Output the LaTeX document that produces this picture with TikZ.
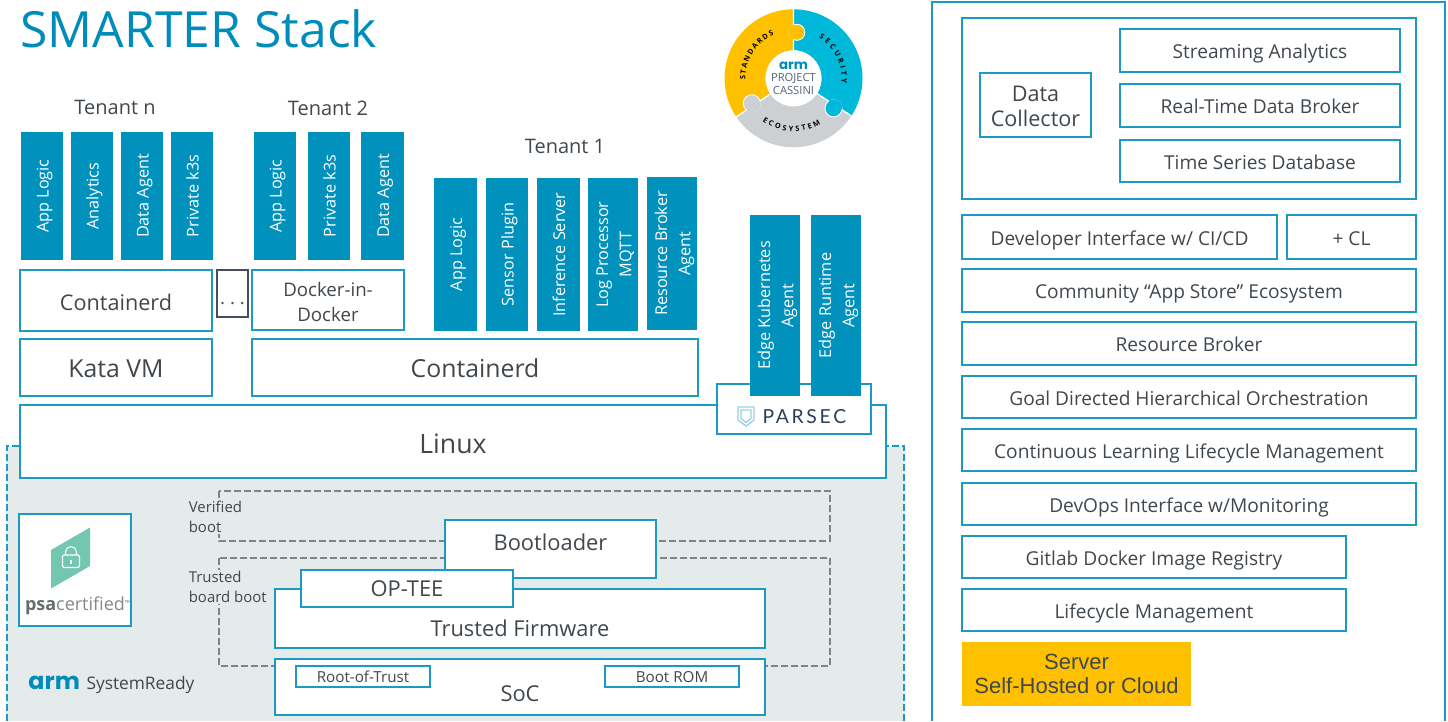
\documentclass[tikz,border=0pt]{standalone}
\usepackage{fontspec}
\usetikzlibrary{decorations.text}
\setmainfont{Open Sans}
\newfontfamily\armfont{Poppins}
\newfontfamily\parsecfont[LetterSpace=14]{Lato}
\newfontfamily\serverfont{Liberation Sans}
\newcommand{\fsize}[2]{\fontsize{#1pt}{#2pt}\selectfont}
\newcommand{\lowtext}[2][-1.5pt]{\raisebox{#1}[\height][\depth]{\begin{tabular}{@{}c@{}}#2\end{tabular}}}
\definecolor{edgeblue}{RGB}{27,155,196}
\definecolor{barblue}{RGB}{0,145,189}
\definecolor{titleblue}{RGB}{0,140,186}
\definecolor{inktext}{RGB}{64,72,78}
\definecolor{sysgrey}{RGB}{229,234,234}
\definecolor{dashgrey}{RGB}{128,132,134}
\definecolor{dotsink}{RGB}{70,80,92}
\definecolor{goldfill}{RGB}{255,192,0}
\definecolor{cyanfill}{RGB}{0,184,217}
\definecolor{ringgrey}{RGB}{205,208,210}
\definecolor{psateal}{RGB}{115,198,175}
\definecolor{navyink}{RGB}{44,62,90}
\tikzset{every picture/.style={line width=0.75pt}}
\tikzset{
  sz/.style 2 args={minimum width=#1*0.75pt,minimum height=#2*0.75pt},
  wbox/.style={draw=edgeblue,fill=white,line width=1.2pt,anchor=north west,inner sep=0pt,outer sep=0pt,align=center,text=inktext},
  bar/.style={fill=barblue,text=white,rotate=90,inner sep=0pt,font=\fsize{12.2}{17.5}},
  caption/.style={text=inktext,inner sep=0pt,align=center},
  bootframe/.style={draw=dashgrey,dash pattern={on 5pt off 2.5pt},line width=0.9pt},
  bootlabel/.style={fill=sysgrey,text=inktext,inner sep=1pt,align=left,anchor=north west,font=\fsize{11.2}{15}},
  ft/.style={font=\fsize{14.35}{17},text height=14.6pt,text depth=2.5pt},
  fm/.style={font=\fsize{16.2}{18.5}},
  fb/.style={font=\fsize{16.4}{20}},
  fl/.style={font=\fsize{18.6}{22},text height=15.5pt}
}
\begin{document}
\begin{tikzpicture}[x=0.75pt,y=0.75pt,yscale=-1,xscale=1]
\useasboundingbox (0,0) rectangle (1448,721);

% System ready area
\fill [sysgrey] (7,446) rectangle (904,721);
\draw [edgeblue,dash pattern={on 5pt off 2.5pt},line width=1pt] (7,721) -- (7,446) -- (904,446) -- (904,721);

% Title
\node [anchor=base west,inner sep=0pt,text=titleblue,font=\fsize{37.4}{42}] (title) at (20,47) {SMARTER Stack};

% Tenant labels
\node [caption,font=\fsize{15}{18}] (tenantn) at (115,107) {Tenant n};
\node [caption,font=\fsize{15}{18}] (tenant2) at (328,108) {Tenant 2};
\node [caption,font=\fsize{15}{18}] (tenant1) at (565,146) {Tenant 1};

% Tenant n
\node [bar,sz={128}{42}] (logicn) at (42,196) {\lowtext{App Logic}};
\node [bar,sz={128}{42}] (analyticsn) at (92,196) {\lowtext{Analytics}};
\node [bar,sz={128}{42}] (agentn) at (142,196) {\lowtext{Data Agent}};
\node [bar,sz={128}{42}] (k3sn) at (192,196) {\lowtext{Private k3s}};
\node [wbox,sz={192}{61},fm,text height=14.5pt] (containerdn) at (20,270) {Containerd};
\node [wbox,sz={192}{57},fl] (kata) at (20,339) {Kata VM};
\node [draw=dotsink,fill=white,line width=1.2pt,anchor=north west,outer sep=0pt,sz={31}{47},inner sep=0pt,text=dotsink,font=\fsize{14}{16},text height=15.8pt,text depth=0pt] (dots) at (217,270) {.\hspace{3.7pt}.\hspace{3.7pt}.};

% Tenant 2
\node [bar,sz={128}{42}] (logic2) at (275,196) {\lowtext{App Logic}};
\node [bar,sz={128}{42}] (k3s2) at (329,196) {\lowtext{Private k3s}};
\node [bar,sz={128}{43}] (agent2) at (382.5,196) {\lowtext{Data Agent}};
\node [wbox,sz={152}{60},font=\fsize{14}{18.5}] (dind) at (252,270) {\lowtext[-3pt]{Docker-in-\\Docker}};

% Tenant 1
\node [bar,sz={153}{43}] (logic1) at (455.5,254.5) {\lowtext{App Logic}};
\node [bar,sz={153}{42}] (sensor) at (507,254.5) {\lowtext{Sensor Plugin}};
\node [bar,sz={153}{43}] (inference) at (558.5,254.5) {\lowtext{Inference Server}};
\node [bar,sz={153}{50}] (logproc) at (613,254.5) {\lowtext{Log Processor\\MQTT}};
\node [bar,sz={153}{50}] (broker1) at (672,253.5) {\lowtext{Resource Broker\\Agent}};
\node [wbox,sz={446}{57},fl] (containerd1) at (252,339) {Containerd};

% Linux and Parsec
\node [wbox,sz={866}{73},font=\fsize{20}{24},text height=18.2pt] (linux) at (20,405) {Linux};
\node [wbox,sz={154}{50}] (parsecbox) at (717,384) {};
\node [anchor=west,inner sep=0pt,text=navyink,font=\parsecfont\fsize{14.5}{16}] (parsec) at (762,416.5) {PARSEC};
\draw [edgeblue!45,line width=1pt] (738,407) -- (754,407) -- (754,420) -- (746,426) -- (738,420) -- cycle;
\draw [edgeblue!45,line width=1pt] (741,410) -- (751,410) -- (751,418.5) -- (746,422.5) -- (741,418.5) -- cycle;
\node [bar,sz={181}{50}] (k8sagent) at (775,305.5) {\lowtext{Edge Kubernetes\\Agent}};
\node [bar,sz={181}{50}] (runtimeagent) at (836,305.5) {\lowtext{Edge Runtime\\Agent}};

% Boot chain
\draw [bootframe] (219,491) rectangle (830,541);
\draw [bootframe] (219,558) rectangle (830,666);
\node [bootlabel] (verified) at (187,499) {Verified\\boot};
\node [bootlabel] (trustedboot) at (187,569) {Trusted\\board boot};
\node [wbox,sz={211}{58}] (bootloader) at (445,520) {};
\node [caption,fb] (bootloadertxt) at (550.5,542) {Bootloader};
\node [wbox,sz={490}{59}] (firmware) at (275,589) {};
\node [caption,fb] (firmwaretxt) at (520,628) {Trusted Firmware};
\node [wbox,sz={212}{37},fb] (optee) at (301,570) {OP-TEE};
\node [wbox,sz={490}{56}] (soc) at (275,659) {};
\node [caption,fb] (soctxt) at (520,694) {SoC};
\node [wbox,sz={134}{21},font=\fsize{11.4}{13},text height=9.5pt] (rot) at (296,666) {Root-of-Trust};
\node [wbox,sz={134}{21},font=\fsize{11.4}{13},text height=9.5pt] (bootrom) at (605,666) {Boot ROM};

% PSA logo
\node [wbox,sz={112}{112}] (psabox) at (19,514) {};
\fill [psateal] (51,550) -- (90,527.5) -- (90,566) -- (51,588.5) -- cycle;
\draw [white,line width=0.8pt,rounded corners=1pt] (62.5,555) rectangle (79.5,567.5);
\draw [white,line width=0.8pt] (65.5,555) -- (65.5,552) arc[start angle=180,end angle=360,radius=5.5] -- (76.5,555);
\draw [white,line width=0.8pt] (71,559.5) -- (71,563.5);
\node [anchor=base west,inner sep=0pt,text=inktext!80,font=\fsize{13.5}{15}] (psatext) at (24.5,610.5) {\textbf{psa}\textcolor{inktext!65}{certified}\raisebox{4pt}{\fsize{5}{5}™}};

% Arm SystemReady
\node [anchor=base west,inner sep=0pt,text=titleblue,font=\armfont\bfseries\fsize{17.8}{20}] (armready) at (28,689) {arm};
\node [anchor=base west,inner sep=0pt,text=inktext,font=\fsize{13}{15}] (sysready) at (86,689) {SystemReady};

% Right panel
\draw [edgeblue,line width=1.2pt] (932,721) -- (932,2) -- (1445,2) -- (1445,721);
\node [wbox,sz={454}{181}] (topbox) at (962,18) {};
\node [wbox,sz={111}{64},fm] (collector) at (980,73) {\lowtext[-3pt]{Data\\Collector}};
\node [wbox,sz={280}{43},ft] (streaming) at (1120,29) {Streaming Analytics};
\node [wbox,sz={280}{43},ft] (realtime) at (1120,84) {Real-Time Data Broker};
\node [wbox,sz={280}{42},ft] (timeseries) at (1120,140) {Time Series Database};
\node [wbox,sz={315}{44},ft] (devif) at (962,215) {Developer Interface w/ CI/CD};
\node [wbox,sz={129}{44},ft] (plusCL) at (1287,215) {+ CL};
\node [wbox,sz={454}{43},ft] (community) at (962,269) {Community “App Store” Ecosystem};
\node [wbox,sz={454}{43},ft] (resource) at (962,322) {Resource Broker};
\node [wbox,sz={454}{42},ft] (goal) at (962,376) {Goal Directed Hierarchical Orchestration};
\node [wbox,sz={454}{42},ft] (continuous) at (962,429) {Continuous Learning Lifecycle Management};
\node [wbox,sz={454}{42},ft] (devops) at (962,483) {DevOps Interface w/Monitoring};
\node [wbox,sz={384}{42},ft] (gitlab) at (962,536) {Gitlab Docker Image Registry};
\node [wbox,sz={384}{42},ft] (lifecycle) at (962,589) {Lifecycle Management};
\node [fill=goldfill,anchor=north west,outer sep=0pt,sz={229}{64},inner sep=0pt,align=center,text=inktext,font=\serverfont\fsize{16.5}{18}] (server) at (962,642) {Server\\Self-Hosted or Cloud};

% Cassini logo
\begin{scope}[shift={(793.5,78.3)}]
\def\goldsector{(-90:69) arc[start angle=-90,end angle=-214,radius=69] -- (-214:28) arc[start angle=-214,end angle=-90,radius=28] -- cycle}
\def\cyansector{(-90:69) arc[start angle=-90,end angle=33,radius=69] -- (33:28) arc[start angle=33,end angle=-90,radius=28] -- cycle}
\def\greysector{(33:69) arc[start angle=33,end angle=146,radius=69] -- (146:28) arc[start angle=146,end angle=33,radius=28] -- cycle}
\fill [goldfill] \goldsector;
\fill [cyanfill] \cyansector;
\fill [ringgrey] \greysector;
\draw [white,line width=1pt] (-90:28) -- (-90:69) (33:28) -- (33:69) (146:28) -- (146:69);
% Puzzle tabs
\fill [white] (3.3,-46) circle (8.5);
\begin{scope} \clip \goldsector; \fill [goldfill] (3.3,-46) circle (8.5); \end{scope}
\fill [goldfill] (3.3,-46) circle (7.5);
\fill [white] (-41.7,25) circle (9);
\begin{scope} \clip \greysector; \fill [ringgrey] (-41.7,25) circle (9); \end{scope}
\fill [ringgrey] (-41.7,25) circle (8);
\fill [white] (40,30) circle (9);
\begin{scope} \clip \cyansector; \fill [cyanfill] (40,30) circle (9); \end{scope}
\fill [cyanfill] (40,30) circle (8);
\fill [white] (0,0) circle (28);
% Ring words
\path [decorate,decoration={text along path,text align=fit to path,text={|\fsize{5.5}{6}\bfseries|STANDARDS}}] (-182:48) arc[start angle=-182,end angle=-114,radius=48];
\path [decorate,decoration={text along path,text align=fit to path,text={|\fsize{5.5}{6}\bfseries|SECURITY}}] (-58:48) arc[start angle=-58,end angle=6,radius=48];
\path [decorate,decoration={text along path,text align=fit to path,text={|\fsize{5.5}{6}\bfseries|ECOSYSTEM}}] (126:53) arc[start angle=126,end angle=59,radius=53];
\node [inner sep=0pt,text=titleblue,font=\armfont\bfseries\fsize{10}{11}] (armsmall) at (0,-13) {arm};
\node [inner sep=0pt,text=navyink!80,align=center,font=\fsize{8.4}{9.5}] (cassini) at (0,6) {PROJECT\\CASSINI};
\end{scope}

\end{tikzpicture}
\end{document}
